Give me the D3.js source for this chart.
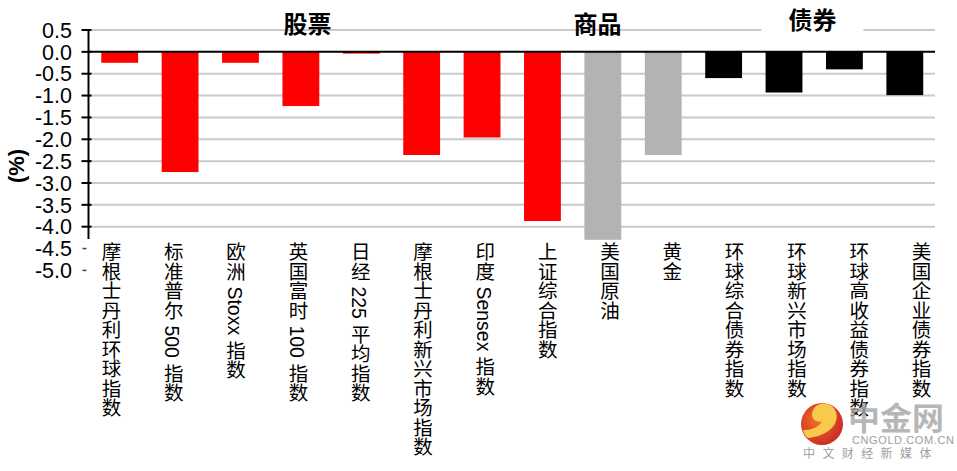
<!DOCTYPE html>
<html>
<head>
<meta charset="utf-8">
<script src="https://cdn.jsdelivr.net/npm/d3@7"></script>
<style>
  body { margin: 0; background: #fff; }
  svg { display: block; }
</style>
</head>
<body>
<div class="chart"></div>
<script>
const categories = ['摩根士丹利环球指数', '标准普尔 500 指数', '欧洲 Stoxx 指数', '英国富时 100 指数',
  '日经 225 平均指数', '摩根士丹利新兴市场指数', '印度 Sensex 指数', '上证综合指数',
  '美国原油', '黄金', '环球综合债券指数', '环球新兴市场指数', '环球高收益债券指数', '美国企业债券指数']
const values = [-0.25, -2.75, -0.25, -1.24, -0.04, -2.36, -1.96, -3.87, -4.3, -2.36, -0.6, -0.93, -0.4, -0.99]
const groupOf = ['股票', '股票', '股票', '股票', '股票', '股票', '股票', '股票', '商品', '商品', '债券', '债券', '债券', '债券']
const groupTitles = ['股票', '商品', '债券']
const titleAt = [3.11, 7.91, 11.47]   // position along the category axis, in bands
const yTicks = [0.5, 0, -0.5, -1, -1.5, -2, -2.5, -3, -3.5, -4, -4.5, -5]

const width = 957, height = 471
const plotTop = 30, plotBottom = 239

const color = {'股票': '#ff0000', '商品': '#b3b3b3', '债券': '#000000'}

const svg = d3.select('.chart').append('svg')
    .attr('width', width)
    .attr('height', height)

const x = d3.scaleBand()
    .domain(categories)
    .range([89.5, 935])
    .paddingInner(0.39)
    .paddingOuter(0.195)

const y = d3.scaleLinear()
    .domain([0.5, -5])
    .range([30, 270.4])

// labels sit on their own slightly wider spacing
const xLabel = d3.scalePoint()
    .domain(categories)
    .range([110, 920])

const axisX = 88.5

// gridlines
svg.append('g')
    .selectAll('line')
    .data(yTicks.filter(d => d !== 0 && y(d) <= plotBottom))
    .enter()
    .append('line')
    .attr('x1', axisX)
    .attr('x2', 935)
    .attr('y1', d => y(d))
    .attr('y2', d => y(d))
    .attr('stroke', '#cacaca')
    .attr('stroke-width', 2)

// bars
svg.append('g')
    .selectAll('rect')
    .data(values)
    .enter()
    .append('rect')
    .attr('x', (d, i) => x(categories[i]))
    .attr('width', x.bandwidth())
    .attr('y', y(0))
    .attr('height', d => Math.min(y(d), plotBottom + 1) - y(0))
    .attr('fill', (d, i) => color[groupOf[i]])

// zero line
svg.append('line')
    .attr('x1', axisX)
    .attr('x2', 935)
    .attr('y1', y(0))
    .attr('y2', y(0))
    .attr('stroke', '#000')
    .attr('stroke-width', 2)

// y axis
svg.append('line')
    .attr('x1', axisX)
    .attr('x2', axisX)
    .attr('y1', plotTop - 1)
    .attr('y2', plotBottom)
    .attr('stroke', '#000')
    .attr('stroke-width', 2)

svg.append('g')
    .selectAll('line')
    .data(yTicks)
    .enter()
    .append('line')
    .attr('x1', d => y(d) <= plotBottom ? axisX - 7 : axisX - 6)
    .attr('x2', d => y(d) <= plotBottom ? axisX + 3 : axisX - 2)
    .attr('y1', d => y(d))
    .attr('y2', d => y(d))
    .attr('stroke', d => y(d) <= plotBottom ? '#000' : '#444')
    .attr('stroke-width', d => y(d) <= plotBottom ? 2 : 1.5)

svg.append('g')
    .selectAll('text')
    .data(yTicks)
    .enter()
    .append('text')
    .attr('x', 72)
    .attr('y', d => y(d))
    .attr('dy', '0.36em')
    .attr('text-anchor', 'end')
    .style('font-family', '"Liberation Sans", Arial, sans-serif')
    .style('font-size', '21.5px')
    .attr('fill', '#000')
    .text(d => d.toFixed(1))

svg.append('text')
    .attr('transform', 'translate(16,166) rotate(-90)')
    .attr('text-anchor', 'middle')
    .attr('dy', '0.36em')
    .style('font-family', '"Liberation Sans", Arial, sans-serif')
    .style('font-size', '22px')
    .style('font-weight', 'bold')
    .text('(%)')

// category labels, vertical
svg.append('g')
    .selectAll('text')
    .data(categories)
    .enter()
    .append('text')
    .attr('x', d => xLabel(d))
    .attr('y', 242)
    .style('writing-mode', 'vertical-rl')
    .style('text-orientation', 'mixed')
    .style('font-family', '"Liberation Sans", "Noto Sans CJK SC", sans-serif')
    .style('font-size', '19.5px')
    .attr('fill', '#000')
    .text(d => d)

// group titles
const step = x.step()
const titles = svg.append('g')
titles.selectAll('rect')
    .data(groupTitles.filter(t => t === '债券'))
    .enter()
    .append('rect')
    .attr('x', d => x.range()[0] + step * (titleAt[groupTitles.indexOf(d)] + 0.5) - 51)
    .attr('y', 6)
    .attr('width', 102)
    .attr('height', 38)
    .attr('fill', '#fff')

titles.selectAll('text')
    .data(groupTitles)
    .enter()
    .append('text')
    .attr('x', (d, i) => x.range()[0] + step * (titleAt[i] + 0.5))
    .attr('y', (d, i) => i === 2 ? 20 : 24)
    .attr('dy', '0.36em')
    .attr('text-anchor', 'middle')
    .style('font-family', '"Noto Sans CJK SC", sans-serif')
    .style('font-size', '24px')
    .style('font-weight', 'bold')
    .text(d => d)

// watermark
const wm = svg.append('g').attr('opacity', 0.95)
const grad = svg.append('defs').append('radialGradient')
    .attr('id', 'logo').attr('cx', '40%').attr('cy', '40%').attr('r', '60%')
grad.append('stop').attr('offset', '0%').attr('stop-color', '#f26a1b')
grad.append('stop').attr('offset', '100%').attr('stop-color', '#c9241a')
wm.append('circle')
    .attr('cx', 822).attr('cy', 424).attr('r', 21)
    .attr('fill', 'url(#logo)')
wm.append('path')
    .attr('d', 'M808,438 C828,436 840,424 836,412 C832,401 817,401 813,410 C809,419 818,425 825,420 C827,418 827,415 825,413 C824,424 814,431 803,430 C804,434 806,437 808,438 Z')
    .attr('fill', '#f7c843')
wm.append('text')
    .attr('x', 848).attr('y', 430)
    .style('font-family', '"Noto Sans CJK SC", sans-serif')
    .style('font-size', '32px')
    .style('font-weight', 'bold')
    .attr('fill', '#a6a6a6')
    .attr('fill-opacity', 0.85)
    .text('中金网')
wm.append('text')
    .attr('x', 852).attr('y', 444)
    .style('font-family', '"Liberation Sans", Arial, sans-serif')
    .style('font-size', '11px')
    .style('letter-spacing', '0.6px')
    .attr('fill', '#9a9a9a')
    .text('CNGOLD.COM.CN')
wm.append('text')
    .attr('x', 803).attr('y', 458)
    .style('font-family', '"Noto Sans CJK SC", sans-serif')
    .style('font-size', '12px')
    .style('letter-spacing', '7.4px')
    .attr('fill', '#9a9a9a')
    .text('中文财经新媒体')
</script>
</body>
</html>
